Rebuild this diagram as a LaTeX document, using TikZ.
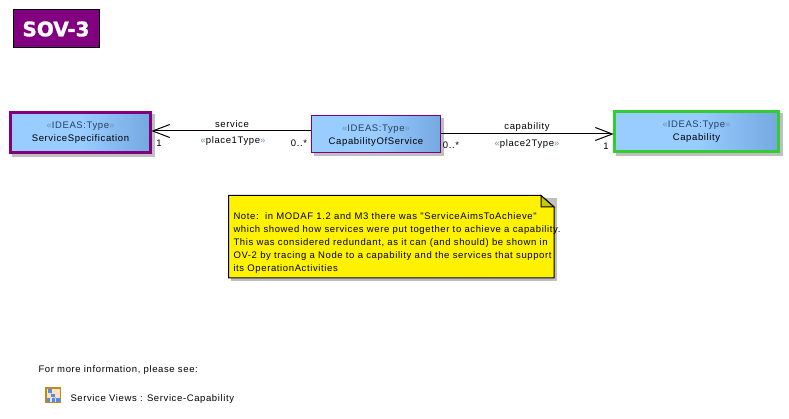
\documentclass[tikz,border=0pt]{standalone}
\usepackage{fontspec}
\setmainfont{Liberation Sans}
\usetikzlibrary{arrows.meta}
\usetikzlibrary{positioning}
\usetikzlibrary{backgrounds}
\definecolor{viewpurple}{HTML}{800080}
\definecolor{boxblue}{HTML}{99CCFF}
\definecolor{boxblue2}{HTML}{74A8E0}
\definecolor{capgreen}{HTML}{33CC33}
\definecolor{stereo}{HTML}{26405F}
\definecolor{guillemet}{HTML}{6F93B8}
\definecolor{notefold}{HTML}{C8C800}
\definecolor{iconrim}{HTML}{C08A20}
\definecolor{iconfill}{HTML}{FFE2BC}
\definecolor{iconblue}{HTML}{4F8CF0}
\newfontfamily\labelfont[LetterSpace=6.5]{Liberation Sans}
\newfontfamily\titlefont[BoldFeatures={FakeBold=1.5}]{DejaVu Sans}
\newcommand{\stereotype}[1]{{\color{guillemet}«}{\color{stereo}#1}{\color{guillemet}»}}

\begin{document}
\begin{tikzpicture}[x=1pt,y=-1pt,>={Straight Barb[length=17pt,width=13pt]},shorten >=-.7pt,
  line width=1pt,
  every node/.style={font=\labelfont\fontsize{9.5}{13}\selectfont,inner sep=0pt},
  type box/.style={rectangle,draw,left color=boxblue,right color=boxblue2,middle color=boxblue,
    align=center},
  main box/.style={type box,line width=3pt,minimum height=40pt},
  icon part/.style={fill=iconblue,minimum size=3.6pt}]

  \useasboundingbox (0,0) rectangle (789,419);

  \node[draw=black,fill=viewpurple,minimum width=86pt,minimum height=38pt,text=white,
    font=\titlefont\fontsize{20}{24}\bfseries] (title) at (56,29) {SOV-3};

  \node[main box,draw=viewpurple,minimum width=140pt] (spec) at (80.5,132.5)
    {\stereotype{IDEAS:Type}\\ServiceSpecification};
  \node[type box,draw=viewpurple,minimum width=129pt,minimum height=37pt] (cos) at (376,134)
    {\rule{0pt}{10pt}\stereotype{IDEAS:Type}\\CapabilityOfService};
  \node[main box,draw=capgreen,minimum width=164pt] (cap) at (696.5,131.5)
    {\stereotype{IDEAS:Type}\\Capability};

  \begin{scope}[on background layer]
    \foreach \boxname in {spec,cos,cap}
      \fill[black!25] ([shift={(3pt,-3pt)}]\boxname.south west) rectangle ([shift={(3pt,-3pt)}]\boxname.north east);
  \end{scope}

  \draw[->] ([yshift=3pt]cos.west) -- ([yshift=1.5pt]spec.east);
  \draw[->] (cos.east) -- ([yshift=-2.5pt]cap.west);

  \node (service) at (232,124) {service};
  \node (place1) at (233,141) {{\color{guillemet}«}place1Type{\color{guillemet}»}};
  \node (one1) at (159,143) {1};
  \node (many1) at (299,143) {0..*};
  \node (capability) at (527,127) {capability};
  \node (place2) at (527,144) {{\color{guillemet}«}place2Type{\color{guillemet}»}};
  \node (many2) at (451,145) {0..*};
  \node (one2) at (606,146) {1};

  % note with folded corner
  \fill[black!25] (231,198) rectangle (557,281);
  \draw[fill=yellow] (228.5,195.5) -- (541,195.5) -- (554,207) -- (554,278) -- (228.5,278) -- cycle;
  \draw[fill=notefold] (541,195.5) -- (541,207) -- (554,207) -- cycle;
  \node[anchor=north west,align=left] (note) at (233,212)
    {Note:\ \ in MODAF 1.2 and M3 there was "ServiceAimsToAchieve"\\
     which showed how services were put together to achieve a capability.\\
     This was considered redundant, as it can (and should) be shown in\\
     OV-2 by tracing a Node to a capability and the services that support\\
     its OperationActivities};

  \node[anchor=west] (more) at (38,370) {For more information, please see:};

  % diagram link icon
  \node[draw=iconrim,line width=1.5pt,fill=iconfill,minimum size=14.5pt] (icon) at (53,395) {};
  \node[icon part] (top) at (50,391) {};
  \node[icon part] (mid) at (53,395.5) {};
  \node[icon part] (leftleaf) at (48.5,400) {};
  \node[icon part] (midleaf) at (53.5,400) {};
  \node[icon part] (rightleaf) at (58,400) {};
  \draw[iconblue,line width=.6pt] (top) -- (mid) (mid) -- (leftleaf) (mid) -- (midleaf) (mid) -- (rightleaf);
  \node[anchor=west] (link) at (70,399.5) {Service Views : Service-Capability};
\end{tikzpicture}
\end{document}
